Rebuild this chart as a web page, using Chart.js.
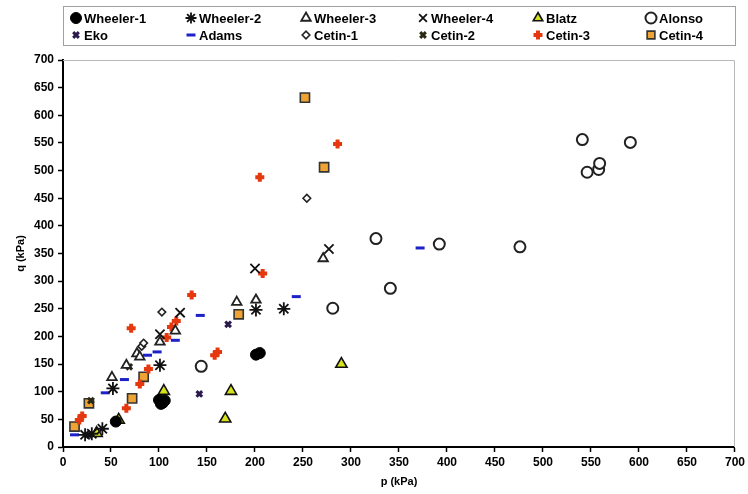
<!DOCTYPE html>
<html>
<head>
<meta charset="utf-8">
<script src="https://cdn.jsdelivr.net/npm/chart.js@4.4.1/dist/chart.umd.min.js"></script>
<style>
  html, body { margin: 0; padding: 0; background: #fff; }
  #wrap { width: 748px; height: 494px; }
</style>
</head>
<body>
<div id="wrap"><canvas id="graph" width="748" height="494"></canvas></div>
<script>
// [p, q] pairs in kPa
const wheeler1 = [[55, 46], [100, 85], [104, 80], [106, 84], [102, 78], [201, 167], [205, 170]];
const wheeler2 = [[23, 22], [30, 24], [41, 33], [52, 106], [101, 148], [201, 248], [230, 250]];
const wheeler3 = [[51, 126], [66, 148], [77, 169], [80, 163], [101, 190], [117, 210], [181, 262], [201, 266], [271, 341]];
const wheeler4 = [[101, 204], [122, 243], [200, 323], [277, 358]];
const blatz = [[35, 25], [58, 49], [105, 101], [169, 51], [175, 101], [290, 150]];
const alonso = [[144, 146], [281, 251], [326, 377], [341, 287], [392, 367], [476, 362], [541, 556], [546, 497], [558, 502], [559, 513], [591, 551]];
const eko = [[27, 22], [142, 96], [172, 222]];
const adams = [[12, 22], [44, 98], [64, 122], [88, 166], [98, 172], [117, 193], [143, 238], [243, 272], [372, 360]];
const cetin1 = [[82, 182], [84, 188], [103, 244], [254, 450]];
const cetin2 = [[29, 84], [69, 145]];
const cetin3 = [[17, 49], [20, 56], [66, 70], [71, 215], [80, 114], [89, 141], [108, 198], [113, 217], [118, 228], [134, 275], [158, 166], [161, 172], [205, 488], [208, 314], [286, 548]];
const cetin4 = [[12, 37], [27, 79], [72, 88], [84, 127], [183, 240], [252, 632], [272, 506]];

const toXY = (arr) => arr.map(([x, y]) => ({ x, y }));

const series = [
  { label: "Wheeler-1", data: wheeler1, pointStyle: "circle", radius: 5.5, bg: "#000", border: "#000", bw: 1 },
  { label: "Wheeler-2", data: wheeler2, pointStyle: "star", radius: 6.5, bg: "#000", border: "#111", bw: 1.8 },
  { label: "Wheeler-3", data: wheeler3, pointStyle: "triangle", radius: 5.5, bg: "#fff", border: "#222", bw: 1.8 },
  { label: "Wheeler-4", data: wheeler4, pointStyle: "crossRot", radius: 6.5, bg: "#000", border: "#111", bw: 1.8 },
  { label: "Blatz", data: blatz, pointStyle: "triangle", radius: 6.5, bg: "#d6e21a", border: "#111", bw: 1.6 },
  { label: "Alonso", data: alonso, pointStyle: "circle", radius: 5.5, bg: "#fff", border: "#222", bw: 2 },
  { label: "Eko", data: eko, pointStyle: "crossRot", radius: 4, bg: "#2b1a4e", border: "#2b1a4e", bw: 3 },
  { label: "Adams", data: adams, pointStyle: "line", radius: 4.5, bg: "#1c22c8", border: "#1c22c8", bw: 3 },
  { label: "Cetin-1", data: cetin1, pointStyle: "rectRot", radius: 3.8, bg: "#fff", border: "#222", bw: 1.6 },
  { label: "Cetin-2", data: cetin2, pointStyle: "crossRot", radius: 4, bg: "#2a2a14", border: "#2a2a14", bw: 3 },
  { label: "Cetin-3", data: cetin3, pointStyle: "cross", radius: 4.5, bg: "#e5380f", border: "#e5380f", bw: 4 },
  { label: "Cetin-4", data: cetin4, pointStyle: "rect", radius: 6.5, bg: "#eea332", border: "#333", bw: 1.6 }
];

// legend drawn in a box above the plot, 6 columns x 2 rows
const legendCols = [76, 191, 306, 423, 538, 651];
const legendRows = [18, 35];

const boxLegend = {
  id: "boxLegend",
  afterDraw(chart) {
    const ctx = chart.ctx;
    const area = chart.chartArea;
    ctx.save();
    // light frame around plot
    ctx.strokeStyle = "#b8b8b8";
    ctx.lineWidth = 1;
    ctx.beginPath();
    ctx.moveTo(area.left, area.top + 0.5);
    ctx.lineTo(area.right - 0.5, area.top + 0.5);
    ctx.lineTo(area.right - 0.5, area.bottom);
    ctx.stroke();
    // legend box
    ctx.strokeStyle = "#a0a0a0";
    ctx.strokeRect(63.5, 6.5, 672, 39);
    ctx.font = "bold 13px 'Liberation Sans', Arial, sans-serif";
    ctx.textBaseline = "middle";
    chart.data.datasets.forEach((ds, i) => {
      const cx = legendCols[i % 6];
      const cy = legendRows[Math.floor(i / 6)];
      ctx.save();
      ctx.fillStyle = ds.backgroundColor;
      ctx.strokeStyle = ds.borderColor;
      ctx.lineWidth = ds.borderWidth;
      Chart.helpers.drawPoint(ctx, {
        pointStyle: ds.pointStyle,
        radius: Math.min(ds.pointRadius, 5.5),
        borderWidth: ds.borderWidth,
        rotation: 0
      }, cx, cy);
      ctx.restore();
      ctx.fillStyle = "#000";
      ctx.fillText(ds.label, cx + 8, cy + 1);
    });
    ctx.restore();
  }
};

const tickFont = { family: "'Liberation Sans', Arial, sans-serif", size: 12, weight: "bold" };

new Chart(document.getElementById("graph").getContext("2d"), {
  type: "scatter",
  data: {
    datasets: series.map((s) => ({
      label: s.label,
      data: toXY(s.data),
      pointStyle: s.pointStyle,
      pointRadius: s.radius,
      pointHoverRadius: s.radius,
      backgroundColor: s.bg,
      borderColor: s.border,
      borderWidth: s.bw
    }))
  },
  options: {
    responsive: false,
    animation: false,
    layout: { padding: { top: 60, right: 12, left: 12, bottom: 3 } },
    plugins: { legend: { display: false }, tooltip: { enabled: false } },
    scales: {
      x: {
        type: "linear",
        min: 0,
        max: 700,
        ticks: { stepSize: 50, color: "#000", font: tickFont, padding: 3 },
        grid: { drawOnChartArea: false, color: "#000", tickLength: 5, tickWidth: 1.5 },
        border: { color: "#000", width: 2 },
        title: { display: true, text: "p (kPa)", color: "#000", font: { ...tickFont, size: 11 }, padding: { top: 4, bottom: 2 } },
        afterFit(scale) { scale.height = 44; }
      },
      y: {
        type: "linear",
        min: 0,
        max: 700,
        ticks: { stepSize: 50, color: "#000", font: tickFont, padding: 4 },
        grid: { drawOnChartArea: false, color: "#000", tickLength: 5, tickWidth: 1.5 },
        border: { color: "#000", width: 2 },
        title: { display: true, text: "q (kPa)", color: "#000", font: { ...tickFont, size: 11 }, padding: { top: 2, bottom: 4 } },
        afterFit(scale) { scale.width = 51; }
      }
    }
  },
  plugins: [boxLegend]
});
</script>
</body>
</html>
